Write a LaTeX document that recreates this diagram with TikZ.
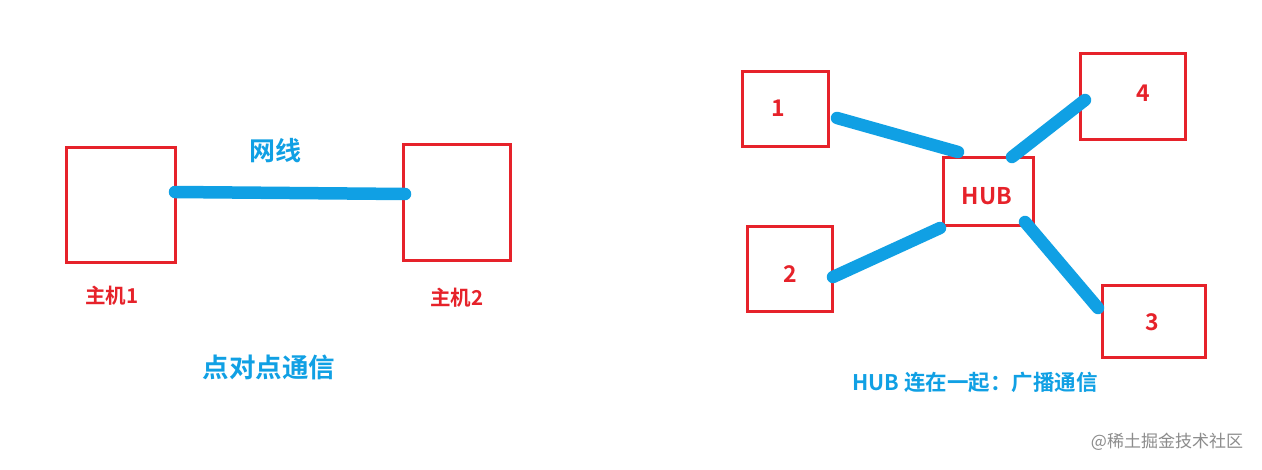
\documentclass[tikz,border=0pt]{standalone}
\usepackage{fontspec}
\setmainfont{Noto Sans CJK SC}[BoldFont=* Bold]
\definecolor{boxred}{RGB}{230,34,42}
\definecolor{lineblue}{RGB}{16,160,228}
\definecolor{wmgray}{RGB}{140,140,140}
\begin{document}
\begin{tikzpicture}[x=1pt,y=-1pt,
  hostbox/.style={draw=boxred,line width=3pt,inner sep=0pt,minimum width=#1},
  wire/.style={draw=lineblue,line width=12.5pt,line cap=round},
  redlbl/.style={text=boxred,font=\bfseries\fontsize{#1}{26}\selectfont,inner sep=0pt},
  bluelbl/.style={text=lineblue,font=\bfseries\fontsize{#1}{30}\selectfont,inner sep=0pt}]
\useasboundingbox[fill=white] (0,0) rectangle (1262,469);
% left part
\node[hostbox=109pt,minimum height=115pt] (h1) at (120.5,204.5) {};
\node[hostbox=107pt,minimum height=116pt] (h2) at (456.5,202) {};
\coordinate (w1) at (175,192);
\coordinate (w2) at (405,194);
\draw[wire] (w1) -- (w2);
\node[bluelbl=26] (wx) at (275,151) {网线};
\node[redlbl=20.5] (l1) at (112,296) {主机1};
\node[redlbl=20.5] (l2) at (457,298) {主机2};
\node[bluelbl=26.5] (p2p) at (269,367) {点对点通信};
% right part
\node[hostbox=86pt,minimum height=75pt] (b1) at (785,108.5) {};
\node[hostbox=105pt,minimum height=86pt] (b4) at (1132.5,96) {};
\node[hostbox=90pt,minimum height=68pt] (hub) at (988,191) {};
\node[hostbox=85pt,minimum height=85pt] (b2) at (789.5,268.5) {};
\node[hostbox=103pt,minimum height=72pt] (b3) at (1153.5,321) {};
\node[redlbl=23] (n1) at (778,108) {1};
\node[redlbl=23] (n4) at (1143,93) {4};
\node[redlbl=23] (n2) at (790,274) {2};
\node[redlbl=23] (n3) at (1152,322) {3};
\node[redlbl=23] (nh) at (987,196) {HUB};
\coordinate (c1a) at (837,118);
\coordinate (c1b) at (958,152);
\coordinate (c4a) at (1085,100);
\coordinate (c4b) at (1012,157);
\coordinate (c2a) at (833,277);
\coordinate (c2b) at (940,228);
\coordinate (c3a) at (1025,222);
\coordinate (c3b) at (1098,308);
\draw[wire] (c1a) -- (c1b);
\draw[wire] (c4a) -- (c4b);
\draw[wire] (c2a) -- (c2b);
\draw[wire] (c3a) -- (c3b);
\node[bluelbl=21.5] (cap) at (975,382) {HUB 连在一起：广播通信};
\node[text=wmgray,font=\fontsize{17}{20}\selectfont,inner sep=0pt] (wm) at (1167,442) {@稀土掘金技术社区};
\end{tikzpicture}
\end{document}
